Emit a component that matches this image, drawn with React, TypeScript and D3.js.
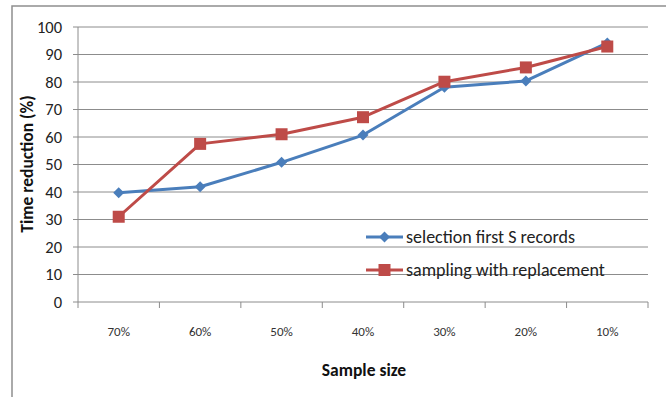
import React from "react";
import * as d3 from "d3";

const categories = ["70%", "60%", "50%", "40%", "30%", "20%", "10%"];
const selectionFirst = [39.7, 41.9, 50.8, 60.7, 78.1, 80.4, 94.2];
const samplingWithReplacement = [31.0, 57.5, 61.0, 67.2, 80.1, 85.3, 92.9];
const yTicks = [0, 10, 20, 30, 40, 50, 60, 70, 80, 90, 100];
const seriesNames = ["selection first S records", "sampling with replacement"];

const W = 666, H = 397;
const left = 78, right = 648, top = 27, bottom = 302;
const FONT = "Carlito, Calibri, Lato, sans-serif";
const BLUE = "#4a7ebb";
const RED = "#be4b48";
const GRID = "#8c8c8c";

export default function App() {
  const x = d3.scaleBand<string>().domain(categories).range([left, right]);
  const y = d3.scaleLinear().domain([0, 100]).range([bottom, top]);
  const cx = (c: string) => (x(c) ?? 0) + x.bandwidth() / 2;
  const line = d3.line<number>().x((_, i) => cx(categories[i])).y((d) => y(d));
  const tickXs = categories.map((c) => x(c) ?? 0).concat([right]);

  const diamond = (px: number, py: number, r = 5.5) =>
    `M${px},${py - r}L${px + r},${py}L${px},${py + r}L${px - r},${py}Z`;

  return (
    <svg width={W} height={H} style={{ position: "absolute", left: 0, top: 0, fontFamily: FONT }}>
      <rect x={0} y={0} width={W} height={H} fill="#fff" />
      <rect x={12} y={6} width={W + 20} height={H + 20} fill="none" stroke="#8e8e8e" strokeWidth={1.5} />
      {yTicks.map((t) => (
        <g key={t}>
          <line x1={left - 5} x2={right} y1={y(t)} y2={y(t)} stroke={GRID} strokeWidth={1} />
          <text x={62} y={y(t) + 5.5} textAnchor="end" fontSize={16.5} fill="#222">{t}</text>
        </g>
      ))}
      <line x1={left} x2={left} y1={top} y2={bottom} stroke={GRID} />
      {tickXs.map((tx, i) => (
        <line key={i} x1={tx} x2={tx} y1={bottom} y2={bottom + 6} stroke={GRID} />
      ))}
      {categories.map((c) => (
        <text key={c} x={cx(c)} y={336} textAnchor="middle" fontSize={13} fill="#333">{c}</text>
      ))}
      <text x={364} y={376} textAnchor="middle" fontSize={17.5} fontWeight="bold" fill="#111">Sample size</text>
      <text transform={`translate(33,${164}) rotate(-90)`} textAnchor="middle" fontSize={17.5} fontWeight="bold" fill="#111">Time reduction (%)</text>

      <path d={line(selectionFirst) ?? ""} fill="none" stroke={BLUE} strokeWidth={3} strokeLinejoin="round" />
      {selectionFirst.map((v, i) => (
        <path key={i} d={diamond(cx(categories[i]), y(v))} fill={BLUE} />
      ))}
      <path d={line(samplingWithReplacement) ?? ""} fill="none" stroke={RED} strokeWidth={3} strokeLinejoin="round" />
      {samplingWithReplacement.map((v, i) => (
        <rect key={i} x={cx(categories[i]) - 6} y={y(v) - 6} width={12} height={12} fill={RED} />
      ))}

      <g>
        <line x1={366} x2={403} y1={237} y2={237} stroke={BLUE} strokeWidth={3} />
        <path d={diamond(384.5, 237)} fill={BLUE} />
        <text x={406} y={243} fontSize={18} fill="#222">{seriesNames[0]}</text>
        <line x1={366} x2={403} y1={270} y2={270} stroke={RED} strokeWidth={3} />
        <rect x={378.5} y={264} width={12} height={12} fill={RED} />
        <text x={406} y={276} fontSize={18} fill="#222">{seriesNames[1]}</text>
      </g>
    </svg>
  );
}
